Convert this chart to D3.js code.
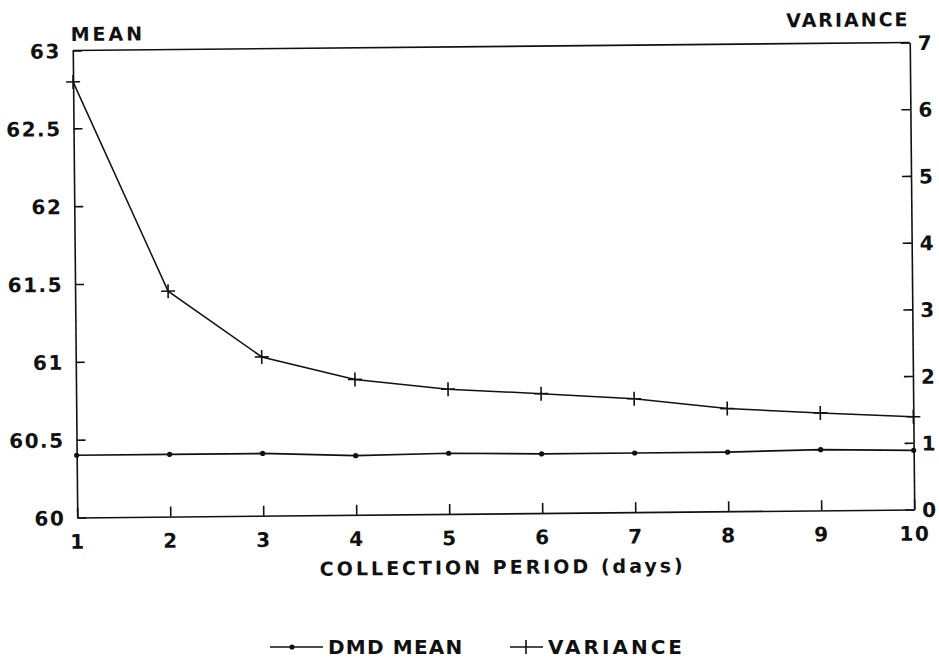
<!DOCTYPE html>
<html lang="en">
<head>
  <meta charset="UTF-8">
  <script src="https://d3js.org/d3.v7.min.js"></script>
  <style>
    body { margin: 0; background: #fff; }
    text { font-family: 'DejaVu Sans', 'Liberation Sans', sans-serif; font-weight: bold; fill: #111; }
    .axis path, .axis line, .frame { stroke: #111; stroke-width: 1.6px; fill: none; }
    .axis text { font-size: 20px; letter-spacing: 1.5px; }
  </style>
</head>
<body>
<script>
  // values
  const days = [1, 2, 3, 4, 5, 6, 7, 8, 9, 10];
  const meanValues = [60.40, 60.40, 60.40, 60.38, 60.39, 60.38, 60.38, 60.38, 60.39, 60.38];
  const varianceValues = [6.53, 3.38, 2.38, 2.03, 1.87, 1.79, 1.70, 1.54, 1.46, 1.39];
  const meanTicks = [60, 60.5, 61, 61.5, 62, 62.5, 63];
  const varianceTicks = [0, 1, 2, 3, 4, 5, 6, 7];

  const width = 939, height = 662;
  const m = { left: 75, right: 912, top: 46.5, bottom: 513.5 };

  const svg = d3.select("body").append("svg")
    .attr("width", width)
    .attr("height", height);

  // the scanned page is a little tilted
  const g = svg.append("g")
    .attr("transform", "rotate(-0.55, 494, 280)");

  const x = d3.scaleLinear().domain([1, 10]).range([m.left, m.right]);
  const yMean = d3.scaleLinear().domain([60, 63]).range([m.bottom, m.top]);
  const yVar = d3.scaleLinear().domain([0, 7]).range([m.bottom, m.top]);

  // top border
  g.append("line").attr("class", "frame")
    .attr("x1", m.left).attr("x2", m.right)
    .attr("y1", m.top).attr("y2", m.top);

  g.append("g").attr("class", "axis")
    .attr("transform", `translate(${m.left},0)`)
    .call(d3.axisLeft(yMean).tickValues(meanTicks).tickFormat(d => d)
      .tickSizeInner(-9).tickSizeOuter(0).tickPadding(12))
    .selectAll("text").attr("dy", "0.36em");

  g.append("g").attr("class", "axis")
    .attr("transform", `translate(${m.right},0)`)
    .call(d3.axisRight(yVar).tickValues(varianceTicks).tickFormat(d => d)
      .tickSizeInner(-9).tickSizeOuter(0).tickPadding(8))
    .selectAll("text").attr("dy", "0.36em");

  g.append("g").attr("class", "axis")
    .attr("transform", `translate(0,${m.bottom})`)
    .call(d3.axisBottom(x).tickValues(days).tickFormat(d => d)
      .tickSizeInner(-10).tickSizeOuter(0).tickPadding(17));

  // axis titles
  g.append("text").attr("x", 73).attr("y", 37)
    .style("font-size", "19px").style("letter-spacing", "3px")
    .text("MEAN");
  g.append("text").attr("x", 912).attr("y", 30)
    .attr("text-anchor", "end")
    .style("font-size", "19px").style("letter-spacing", "2px")
    .text("VARIANCE");
  g.append("text").attr("x", 500).attr("y", 574)
    .attr("text-anchor", "middle")
    .style("font-size", "19px").style("letter-spacing", "3px")
    .text("COLLECTION PERIOD (days)");

  // mean series
  const meanLine = d3.line().x((d, i) => x(days[i])).y(d => yMean(d));
  g.append("path")
    .attr("d", meanLine(meanValues))
    .attr("fill", "none").attr("stroke", "#111").attr("stroke-width", 1.7);
  g.selectAll(".mdot").data(meanValues).join("circle")
    .attr("class", "mdot")
    .attr("cx", (d, i) => x(days[i])).attr("cy", d => yMean(d))
    .attr("r", 2.6).attr("fill", "#111");

  // variance series
  const varLine = d3.line().x((d, i) => x(days[i])).y(d => yVar(d));
  g.append("path")
    .attr("d", varLine(varianceValues))
    .attr("fill", "none").attr("stroke", "#111").attr("stroke-width", 1.5);
  const cross = 7;
  g.selectAll(".vcross").data(varianceValues).join("path")
    .attr("class", "vcross")
    .attr("d", (d, i) => {
      const cx = x(days[i]), cy = yVar(d);
      return `M${cx - cross},${cy}H${cx + cross}M${cx},${cy - cross}V${cy + cross}`;
    })
    .attr("stroke", "#111").attr("stroke-width", 1.6);

  // legend (kept level, near the bottom edge)
  const leg = svg.append("g");
  leg.append("line").attr("x1", 270).attr("x2", 323).attr("y1", 647).attr("y2", 647)
    .attr("stroke", "#111").attr("stroke-width", 1.6);
  leg.append("circle").attr("cx", 292).attr("cy", 647).attr("r", 2.6).attr("fill", "#111");
  leg.append("text").attr("x", 328).attr("y", 654)
    .style("font-size", "20px").style("letter-spacing", "1.2px")
    .text("DMD MEAN");
  leg.append("path")
    .attr("d", "M510,647H543M526,640V654")
    .attr("stroke", "#111").attr("stroke-width", 1.6);
  leg.append("text").attr("x", 548).attr("y", 654)
    .style("font-size", "20px").style("letter-spacing", "3px")
    .text("VARIANCE");
</script>
</body>
</html>
